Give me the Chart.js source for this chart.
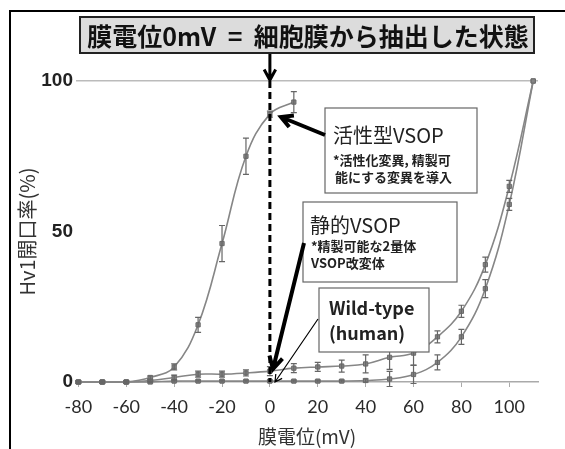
<!DOCTYPE html>
<html>
<head>
<meta charset="utf-8">
<script src="https://cdn.jsdelivr.net/npm/chart.js@4.4.0/dist/chart.umd.min.js"></script>
<style>
  body { margin: 0; background: #fff; }
  #wrap { width: 565px; height: 449px; position: relative; }
</style>
</head>
<body>
<div id="wrap"><canvas id="myChart"></canvas></div>
<script>
// data
const voltages = [-80, -70, -60, -50, -40, -30, -20, -10, 0, 10, 20, 30, 40, 50, 60, 70, 80, 90, 100, 110];
const xTicks = [-80, -60, -40, -20, 0, 20, 40, 60, 80, 100];
const yTicks = [0, 50, 100];

const activeValues = [0, 0, 0, 1.5, 5, 19, 46, 75, 89, 93];
const activeErrors = [0.5, 0.5, 0.5, 0.5, 1, 2.5, 6, 6, 1, 3.5];
const staticValues = [0, 0, 0, 0.5, 1.5, 2.6, 2.6, 3, 3.6, 4.6, 5, 5.3, 6, 8.2, 9.6, 15, 23.5, 39, 65, 100];
const staticErrors = [0.3, 0.3, 0.3, 0.3, 0.8, 1, 1, 1, 1.5, 1.5, 1.5, 2, 3, 4, 4, 2, 2, 2.5, 2, 0];
const wildValues = [0, 0, 0, 0, 0.3, 0.3, 0.3, 0.3, 0.3, 0.3, 0.3, 0.3, 0.5, 1, 2.5, 6.5, 15, 31, 59, 100];
const wildErrors = [0.3, 0.3, 0.3, 0.3, 0.3, 0.3, 0.3, 0.3, 0.3, 0.3, 0.3, 0.3, 0.5, 2.5, 3, 2.5, 2.5, 3, 2, 0];

const JP = '"Noto Sans CJK JP", sans-serif';
const NUM = 'Lato, "Open Sans", sans-serif';

const toPoints = (vals) => vals.map((v, i) => ({ x: voltages[i], y: v }));

const lineStyle = {
    borderColor: '#868686',
    borderWidth: 1.6,
    pointStyle: 'rect',
    pointRadius: 3,
    pointBackgroundColor: '#858585',
    pointBorderColor: '#6a6a6a',
    pointBorderWidth: 1,
    tension: 0.4,
    clip: false
};

const errorBars = {
    id: 'errorBars',
    afterDatasetsDraw(chart) {
        const { ctx, scales: { x, y } } = chart;
        ctx.save();
        ctx.strokeStyle = '#666';
        ctx.lineWidth = 1.2;
        chart.data.datasets.forEach(ds => {
            ds.data.forEach((p, i) => {
                const e = ds.errors[i];
                if (!e) return;
                const px = x.getPixelForValue(p.x);
                const top = y.getPixelForValue(p.y + e);
                const bot = y.getPixelForValue(p.y - e);
                ctx.beginPath();
                ctx.moveTo(px, top); ctx.lineTo(px, bot);
                ctx.moveTo(px - 3, top); ctx.lineTo(px + 3, top);
                ctx.moveTo(px - 3, bot); ctx.lineTo(px + 3, bot);
                ctx.stroke();
            });
        });
        ctx.restore();
    }
};

const arrow = (ctx, x1, y1, x2, y2, w, head) => {
    const a = Math.atan2(y2 - y1, x2 - x1);
    ctx.lineWidth = w;
    ctx.beginPath();
    ctx.moveTo(x1, y1); ctx.lineTo(x2, y2);
    ctx.moveTo(x2 - head * Math.cos(a - 0.5), y2 - head * Math.sin(a - 0.5));
    ctx.lineTo(x2, y2);
    ctx.lineTo(x2 - head * Math.cos(a + 0.5), y2 - head * Math.sin(a + 0.5));
    ctx.stroke();
};

const textBox = (ctx, x, y, w, h, lines) => {
    ctx.fillStyle = '#fff';
    ctx.strokeStyle = '#666';
    ctx.lineWidth = 1.2;
    ctx.fillRect(x, y, w, h);
    ctx.strokeRect(x, y, w, h);
    ctx.fillStyle = '#222';
    ctx.textAlign = 'left';
    ctx.textBaseline = 'middle';
    lines.forEach(l => {
        ctx.font = l.font;
        ctx.fillText(l.text, l.x, l.y);
    });
};

const annotations = {
    id: 'annotations',
    afterDraw(chart) {
        const { ctx, scales: { x, y } } = chart;
        const x0 = x.getPixelForValue(0);
        ctx.save();
        ctx.lineCap = 'butt';
        ctx.lineJoin = 'miter';

        // frame
        ctx.strokeStyle = '#000';
        ctx.lineWidth = 2;
        ctx.beginPath();
        ctx.moveTo(10, 449); ctx.lineTo(10, 11); ctx.lineTo(565, 11);
        ctx.stroke();

        // title box
        ctx.fillStyle = '#dcdcdc';
        ctx.fillRect(80, 17, 454, 36);
        ctx.strokeStyle = '#222';
        ctx.lineWidth = 2;
        ctx.strokeRect(80, 17, 454, 36);
        ctx.fillStyle = '#111';
        ctx.font = 'bold 25px ' + JP;
        ctx.textAlign = 'center';
        ctx.textBaseline = 'middle';
        ctx.fillText('膜電位0mV  =  細胞膜から抽出した状態', 308, 36);

        // arrow down + dashed line at 0 mV
        ctx.strokeStyle = '#000';
        arrow(ctx, x0, 54, x0, y.getPixelForValue(100) - 1, 3, 12);
        ctx.setLineDash([7, 4]);
        ctx.lineWidth = 3;
        ctx.beginPath();
        ctx.moveTo(x0, y.getPixelForValue(100));
        ctx.lineTo(x0, y.getPixelForValue(0));
        ctx.stroke();
        ctx.setLineDash([]);

        // annotation boxes
        textBox(ctx, 325, 108, 152, 85, [
            { text: '活性型VSOP', x: 333, y: 135, font: '20px ' + JP },
            { text: '*活性化変異, 精製可', x: 333, y: 160, font: 'bold 13px ' + JP },
            { text: '能にする変異を導入', x: 335, y: 177, font: 'bold 13px ' + JP }
        ]);
        textBox(ctx, 303, 202, 154, 80, [
            { text: '静的VSOP', x: 310, y: 225, font: '20px ' + JP },
            { text: '*精製可能な2量体', x: 311, y: 246, font: 'bold 13px ' + JP },
            { text: 'VSOP改変体', x: 311, y: 263, font: 'bold 13px ' + JP }
        ]);
        textBox(ctx, 319, 288, 110, 64, [
            { text: 'Wild-type', x: 329, y: 308, font: 'bold 18px ' + JP },
            { text: '(human)', x: 329, y: 333, font: 'bold 18px ' + JP }
        ]);

        // pointer arrows
        ctx.strokeStyle = '#000';
        arrow(ctx, 325, 135, 281, 117, 4, 13);
        arrow(ctx, 304, 243, 273, 369, 4, 14);
        arrow(ctx, 318, 319, 275, 382, 1.2, 8);
        ctx.restore();
    }
};

const ctx = document.getElementById('myChart');

const config = {
    type: 'line',
    data: {
        datasets: [
            { ...lineStyle, label: '活性型VSOP', data: toPoints(activeValues), errors: activeErrors },
            { ...lineStyle, label: '静的VSOP', data: toPoints(staticValues), errors: staticErrors },
            { ...lineStyle, label: 'Wild-type (human)', data: toPoints(wildValues), errors: wildErrors }
        ]
    },
    options: {
        responsive: true,
        maintainAspectRatio: false,
        animation: false,
        layout: { padding: { top: 81, right: 27, left: 0, bottom: 0 } },
        plugins: { legend: { display: false }, tooltip: { enabled: false } },
        scales: {
            x: {
                type: 'linear',
                min: -81,
                max: 112,
                afterBuildTicks: s => { s.ticks = xTicks.map(v => ({ value: v })); },
                afterFit: s => { s.height = 67; },
                grid: { drawOnChartArea: false, drawTicks: true, tickLength: 5, color: '#aaa' },
                border: { color: '#aaa', width: 1.5 },
                ticks: { font: { family: NUM, size: 18 }, color: '#2a2a2a', padding: 9, maxRotation: 0 },
                title: { display: true, text: '膜電位(mV)', font: { family: JP, size: 19 }, color: '#333', padding: { top: 0, bottom: 1 } }
            },
            y: {
                min: 0,
                max: 100,
                afterBuildTicks: s => { s.ticks = yTicks.map(v => ({ value: v })); },
                afterFit: s => { s.width = 76; },
                grid: { color: c => c.tick.value === 100 ? '#bbb' : 'rgba(0,0,0,0)', drawTicks: false, lineWidth: 1.5 },
                border: { display: false },
                ticks: { font: { family: '"Liberation Sans", Arial, sans-serif', size: 19, weight: 'bold' }, color: '#222', padding: 3 },
                title: { display: true, text: 'Hv1開口率(%)', font: { family: JP, size: 20 }, color: '#333', padding: { top: 15, bottom: 0 } }
            }
        }
    },
    plugins: [errorBars, annotations]
};

const graph = new Chart(ctx, config);
</script>
</body>
</html>
